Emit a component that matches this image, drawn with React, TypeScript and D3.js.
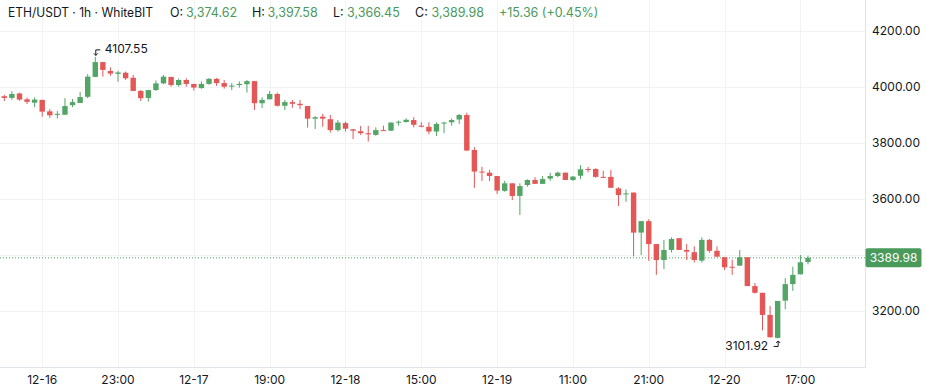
import * as d3 from "d3";

// OHLC, hourly ETH/USDT candles
const opens = [
  3967, 3961, 3977, 3956, 3944, 3954, 3913, 3901, 3901, 3935, 3943, 3965, 4036, 4089, 4057, 4047, 4051, 4033, 3986, 3961,
  3989, 4013, 4036, 4007, 4025, 4011, 3996, 4011, 4029, 4014, 4004, 4007, 4010, 4021, 3942, 3956, 3975, 3933, 3946, 3940,
  3932, 3887, 3894, 3885, 3846, 3871, 3849, 3842, 3835, 3829, 3846, 3844, 3874, 3875, 3882, 3862, 3858, 3841, 3870, 3874,
  3884, 3900, 3775, 3698, 3694, 3682, 3629, 3656, 3611, 3650, 3668, 3654, 3673, 3682, 3694, 3668, 3683, 3707, 3707, 3679,
  3679, 3638, 3617, 3623, 3480, 3521, 3439, 3382, 3418, 3460, 3418, 3410, 3380, 3454, 3415, 3392, 3358, 3362, 3392, 3289,
  3265, 3186, 3104, 3237, 3296, 3331, 3374.62,
];
const highs = [
  3972, 3985, 3980, 3962, 3963, 3954, 3921, 3914, 3960, 3957, 3982, 4046, 4107.55, 4090, 4070, 4058, 4055, 4043, 3989, 3989,
  4023, 4043, 4036, 4030, 4031, 4011, 4020, 4032, 4032, 4025, 4014, 4020, 4025, 4021, 3963, 3986, 3980, 3954, 3954, 3954,
  3932, 3896, 3904, 3900, 3882, 3876, 3849, 3861, 3861, 3856, 3862, 3873, 3880, 3888, 3892, 3874, 3874, 3874, 3876, 3888,
  3904, 3908, 3785, 3715, 3704, 3682, 3665, 3656, 3656, 3670, 3678, 3682, 3694, 3698, 3694, 3682, 3721, 3715, 3710, 3701,
  3704, 3642, 3634, 3623, 3521, 3528, 3439, 3454, 3463, 3460, 3439, 3431, 3463, 3457, 3431, 3392, 3383, 3418, 3392, 3300,
  3265, 3218, 3236, 3317, 3358, 3400, 3397.58,
];
const lows = [
  3950, 3954, 3951, 3939, 3928, 3894, 3890, 3888, 3901, 3928, 3943, 3960, 4035, 4037, 4040, 4019, 4025, 3985, 3950, 3948,
  3986, 4010, 4001, 4001, 4001, 3987, 3994, 4008, 4004, 3994, 3989, 3998, 3980, 3918, 3925, 3956, 3930, 3918, 3926, 3921,
  3855, 3850, 3858, 3837, 3841, 3841, 3814, 3829, 3805, 3826, 3843, 3843, 3862, 3873, 3856, 3856, 3831, 3825, 3835, 3862,
  3868, 3772, 3640, 3664, 3664, 3618, 3626, 3596, 3543, 3644, 3654, 3654, 3665, 3678, 3668, 3664, 3671, 3695, 3676, 3676,
  3640, 3575, 3590, 3395, 3400, 3379, 3329, 3350, 3409, 3418, 3382, 3373, 3373, 3408, 3394, 3346, 3329, 3362, 3289, 3262,
  3131, 3106, 3101.92, 3206, 3272, 3331, 3366.45,
];
const closes = [
  3961, 3975, 3955, 3947, 3955, 3912, 3899, 3904, 3932, 3946, 3964, 4037, 4089, 4061, 4048, 4052, 4031, 3986, 3960, 3989,
  4013, 4037, 4007, 4025, 4011, 3998, 4011, 4029, 4014, 4001, 4005, 4011, 4021, 3942, 3954, 3975, 3933, 3946, 3940, 3935,
  3887, 3892, 3887, 3846, 3873, 3851, 3844, 3835, 3831, 3846, 3843, 3873, 3876, 3883, 3865, 3858, 3841, 3868, 3873, 3882,
  3900, 3773, 3698, 3695, 3682, 3630, 3656, 3611, 3646, 3668, 3654, 3671, 3682, 3694, 3668, 3680, 3706, 3704, 3679, 3676,
  3640, 3614, 3620, 3480, 3521, 3439, 3382, 3418, 3457, 3418, 3412, 3382, 3454, 3415, 3394, 3356, 3355, 3392, 3289, 3265,
  3186, 3106, 3236, 3296, 3329, 3374, 3389.98,
];

const timeLabels = ["12-16", "23:00", "12-17", "19:00", "12-18", "15:00", "12-19", "11:00", "21:00", "12-20", "17:00"];
const timeLabelIdx = [5, 15, 25, 35, 45, 55, 65, 75, 85, 95, 105];
const priceTicks = [3200, 3400, 3600, 3800, 4000, 4200];

const W = 926;
const H = 392;
const plotRight = 865;
const plotBottom = 367;

const UP = "#53a566";
const DOWN = "#e45757";
const TEXT_GREEN = "#4a9a5c";
const INK = "#131722";
const FONT = "Inter, 'Noto Sans', sans-serif";

export default function App() {
  const n = closes.length;
  const x = d3.scaleLinear().domain([0, n - 1]).range([4.3, 4.3 + (n - 1) * 7.582]);
  const y = d3.scaleLinear().domain([3000, 4200]).range([plotBottom, 31]);
  const bw = 5.4;

  const last = closes[n - 1];
  const lastY = y(last);

  const hiIdx = highs.indexOf(d3.max(highs)!);
  const loIdx = lows.indexOf(d3.min(lows)!);

  return (
    <svg width={W} height={H} style={{ position: "absolute", left: 0, top: 0, display: "block", background: "#fff" }} fontFamily={FONT}>
      {/* grid */}
      <g stroke="#f2f3f5" strokeWidth={1}>
        {priceTicks.map((t) => (
          <line key={t} x1={0} x2={plotRight} y1={Math.round(y(t)) + 0.5} y2={Math.round(y(t)) + 0.5} />
        ))}
        {timeLabelIdx.map((i) => (
          <line key={i} x1={Math.round(x(i)) + 0.5} x2={Math.round(x(i)) + 0.5} y1={0} y2={plotBottom} />
        ))}
      </g>

      {/* axes borders */}
      <line x1={plotRight + 0.5} x2={plotRight + 0.5} y1={0} y2={plotBottom + 0.5} stroke="#e0e3eb" />
      <line x1={0} x2={plotRight + 0.5} y1={plotBottom + 0.5} y2={plotBottom + 0.5} stroke="#e0e3eb" />

      {/* last price line */}
      <line x1={0} x2={plotRight} y1={lastY} y2={lastY} stroke={UP} strokeWidth={1} strokeDasharray="1 2" />

      {/* candles */}
      <g>
        {closes.map((c, i) => {
          const o = opens[i];
          const col = c >= o ? UP : DOWN;
          const top = y(Math.max(o, c));
          const bh = Math.max(1, y(Math.min(o, c)) - top);
          return (
            <g key={i}>
              <line x1={x(i)} x2={x(i)} y1={y(highs[i])} y2={y(lows[i])} stroke={col} strokeWidth={1} />
              <rect x={x(i) - bw / 2} y={top} width={bw} height={bh} fill={col} />
            </g>
          );
        })}
      </g>

      {/* high / low markers */}
      <g stroke={INK} strokeWidth={1} fill="none">
        <path d={`M${x(hiIdx) + 5},${y(highs[hiIdx]) - 7} H${x(hiIdx) + 0.5} V${y(highs[hiIdx]) - 1.5}`} />
        <path d={`M${x(hiIdx) - 1.5},${y(highs[hiIdx]) - 3.5} L${x(hiIdx) + 0.5},${y(highs[hiIdx]) - 1.5} L${x(hiIdx) + 2.5},${y(highs[hiIdx]) - 3.5}`} />
        <path d={`M${x(loIdx) - 4},${y(lows[loIdx]) + 8} H${x(loIdx) + 0.5} V${y(lows[loIdx]) + 2.5}`} />
        <path d={`M${x(loIdx) - 1.5},${y(lows[loIdx]) + 4.5} L${x(loIdx) + 0.5},${y(lows[loIdx]) + 2.5} L${x(loIdx) + 2.5},${y(lows[loIdx]) + 4.5}`} />
      </g>
      <text x={x(hiIdx) + 9.5} y={y(highs[hiIdx]) - 4.3} fontSize={12} fill={INK}>
        {highs[hiIdx].toFixed(2)}
      </text>
      <text x={x(loIdx) - 9.5} y={y(lows[loIdx]) + 11.7} fontSize={12} fill={INK} textAnchor="end">
        {lows[loIdx].toFixed(2)}
      </text>

      {/* price axis */}
      <g fontSize={12} fill={INK}>
        {priceTicks
          .filter((t) => Math.abs(y(t) - lastY) > 12)
          .map((t) => (
            <text key={t} x={872} y={y(t)} dy="0.35em">
              {t.toFixed(2)}
            </text>
          ))}
      </g>
      <rect x={plotRight + 0.5} y={lastY - 9.5} width={56} height={19} rx={2} fill={TEXT_GREEN} />
      <text x={plotRight + 28.5} y={lastY} dy="0.35em" fontSize={12} fill="#fff" textAnchor="middle">
        {last.toFixed(2)}
      </text>

      {/* time axis */}
      <g fontSize={12} fill={INK} textAnchor="middle">
        {timeLabelIdx.map((idx, k) => (
          <text key={idx} x={x(idx)} y={383.5}>
            {timeLabels[k]}
          </text>
        ))}
      </g>

      {/* legend header */}
      <g fontSize={12.5} fill={INK}>
        <text x={8} y={16.5} textLength={145} lengthAdjust="spacingAndGlyphs">ETH/USDT · 1h · WhiteBIT</text>
        <text x={170} y={16.5}>O:</text>
        <text x={186} y={16.5} fill={TEXT_GREEN}>3,374.62</text>
        <text x={252} y={16.5}>H:</text>
        <text x={267.5} y={16.5} fill={TEXT_GREEN}>3,397.58</text>
        <text x={333} y={16.5}>L:</text>
        <text x={347} y={16.5} fill={TEXT_GREEN}>3,366.45</text>
        <text x={415} y={16.5}>C:</text>
        <text x={431.5} y={16.5} fill={TEXT_GREEN}>3,389.98</text>
        <text x={499} y={16.5} fill={TEXT_GREEN}>+15.36 (+0.45%)</text>
      </g>
    </svg>
  );
}
